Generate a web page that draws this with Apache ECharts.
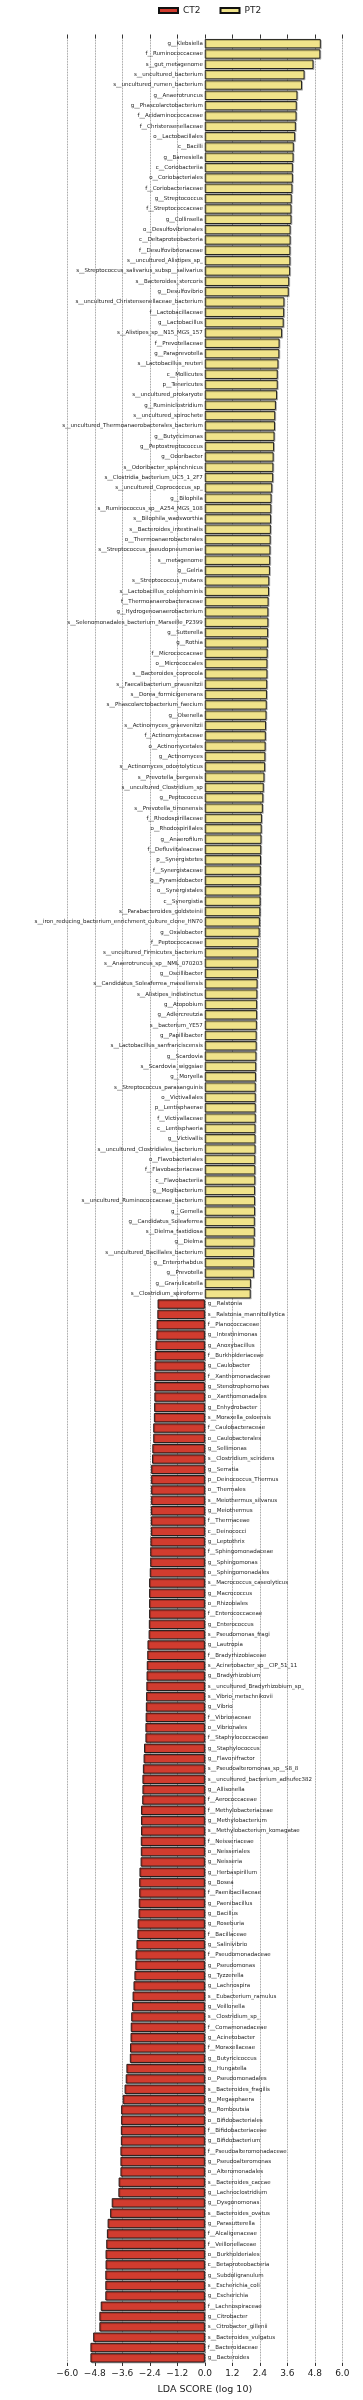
<!DOCTYPE html>
<html>
<head>
<meta charset="utf-8">
<script src="https://cdn.jsdelivr.net/npm/echarts@6/dist/echarts.min.js"></script>
<style>
  html, body { margin: 0; padding: 0; background: #fff; }
  #chart { width: 363px; height: 2400px; }
</style>
</head>
<body>
<div id="chart"></div>
<script>
// PT2 enriched (positive LDA)
const ptNames = [
  "g__Klebsiella", "f__Ruminococcaceae", "s__gut_metagenome", "s__uncultured_bacterium",
  "s__uncultured_rumen_bacterium", "g__Anaerotruncus", "g__Phascolarctobacterium",
  "f__Acidaminococcaceae", "f__Christensenellaceae", "o__Lactobacillales", "c__Bacilli",
  "g__Barnesiella", "c__Coriobacteriia", "o__Coriobacteriales", "f__Coriobacteriaceae",
  "g__Streptococcus", "f__Streptococcaceae", "g__Collinsella", "o__Desulfovibrionales",
  "c__Deltaproteobacteria", "f__Desulfovibrionaceae", "s__uncultured_Alistipes_sp_",
  "s__Streptococcus_salivarius_subsp__salivarius", "s__Bacteroides_stercoris", "g__Desulfovibrio",
  "s__uncultured_Christensenellaceae_bacterium", "f__Lactobacillaceae", "g__Lactobacillus",
  "s__Alistipes_sp__N15_MGS_157", "f__Prevotellaceae", "g__Paraprevotella",
  "s__Lactobacillus_reuteri", "c__Mollicutes", "p__Tenericutes", "s__uncultured_prokaryote",
  "g__Ruminiclostridium", "s__uncultured_spirochete", "s__uncultured_Thermoanaerobacterales_bacterium",
  "g__Butyricimonas", "g__Peptostreptococcus", "g__Odoribacter", "s__Odoribacter_splanchnicus",
  "s__Clostridia_bacterium_UC5_1_2F7", "s__uncultured_Coprococcus_sp_", "g__Bilophila",
  "s__Ruminococcus_sp__A254_MGS_108", "s__Bilophila_wadsworthia", "s__Bacteroides_intestinalis",
  "o__Thermoanaerobacterales", "s__Streptococcus_pseudopneumoniae", "s__metagenome", "g__Gelria",
  "s__Streptococcus_mutans", "s__Lactobacillus_coleohominis", "f__Thermoanaerobacteraceae",
  "g__Hydrogenoanaerobacterium", "s__Selenomonadales_bacterium_Marseille_P2399", "g__Sutterella",
  "g__Rothia", "f__Micrococcaceae", "o__Micrococcales", "s__Bacteroides_coprocola",
  "s__Faecalibacterium_prausnitzii", "s__Dorea_formicigenerans", "s__Phascolarctobacterium_faecium",
  "g__Olsenella", "s__Actinomyces_graevenitzii", "f__Actinomycetaceae", "o__Actinomycetales",
  "g__Actinomyces", "s__Actinomyces_odontolyticus", "s__Prevotella_bergensis",
  "s__uncultured_Clostridium_sp", "g__Peptococcus", "s__Prevotella_timonensis",
  "f__Rhodospirillaceae", "o__Rhodospirillales", "g__Anaerofilum", "f__Defluviitaleaceae",
  "p__Synergistetes", "f__Synergistaceae", "g__Pyramidobacter", "o__Synergistales",
  "c__Synergistia", "s__Parabacteroides_goldsteinii",
  "s__iron_reducing_bacterium_enrichment_culture_clone_HN70", "g__Oxalobacter",
  "f__Peptococcaceae", "s__uncultured_Firmicutes_bacterium", "s__Anaerotruncus_sp__NML_070203",
  "g__Oscillibacter", "s__Candidatus_Soleaferrea_massiliensis", "s__Alistipes_indistinctus",
  "g__Atopobium", "g__Adlercreutzia", "s__bacterium_YE57", "g__Papillibacter",
  "s__Lactobacillus_sanfranciscensis", "g__Scardovia", "s__Scardovia_wiggsiae", "g__Moryella",
  "s__Streptococcus_parasanguinis", "o__Victivallales", "p__Lentisphaerae", "f__Victivallaceae",
  "c__Lentisphaeria", "g__Victivallis", "s__uncultured_Clostridiales_bacterium",
  "o__Flavobacteriales", "f__Flavobacteriaceae", "c__Flavobacteriia", "g__Mogibacterium",
  "s__uncultured_Ruminococcaceae_bacterium", "g__Gemella", "g__Candidatus_Soleaferrea",
  "s__Dielma_fastidiosa", "g__Dielma", "s__uncultured_Bacillales_bacterium", "g__Enterorhabdus",
  "g__Prevotella", "g__Granulicatella", "s__Clostridium_spiroforme"
];
const ptValues = [
  5.06, 5.04, 4.74, 4.35, 4.24, 4.04, 4.01, 4.00, 3.97, 3.94, 3.88, 3.87, 3.84, 3.84, 3.82,
  3.79, 3.78, 3.78, 3.74, 3.74, 3.73, 3.73, 3.72, 3.68, 3.66, 3.47, 3.46, 3.44, 3.37, 3.26,
  3.25, 3.21, 3.18, 3.18, 3.15, 3.10, 3.07, 3.06, 3.04, 3.02, 3.00, 2.99, 2.98, 2.94, 2.91,
  2.90, 2.89, 2.88, 2.87, 2.86, 2.85, 2.84, 2.81, 2.80, 2.78, 2.77, 2.77, 2.76, 2.75, 2.74,
  2.73, 2.73, 2.72, 2.71, 2.70, 2.69, 2.67, 2.66, 2.65, 2.64, 2.63, 2.60, 2.57, 2.55, 2.53,
  2.49, 2.48, 2.47, 2.46, 2.45, 2.44, 2.44, 2.43, 2.43, 2.42, 2.40, 2.39, 2.34, 2.33, 2.33,
  2.32, 2.30, 2.29, 2.28, 2.28, 2.27, 2.26, 2.26, 2.25, 2.24, 2.23, 2.22, 2.22, 2.22, 2.22,
  2.21, 2.21, 2.21, 2.20, 2.20, 2.20, 2.19, 2.19, 2.19, 2.18, 2.18, 2.17, 2.15, 2.15, 2.14,
  2.01, 2.00
];

// CT2 enriched (negative LDA)
const ctNames = [
  "g__Ralstonia", "s__Ralstonia_mannitolilytica", "f__Planococcaceae", "g__Intestinimonas",
  "g__Anoxybacillus", "f__Burkholderiaceae", "g__Caulobacter", "f__Xanthomonadaceae",
  "g__Stenotrophomonas", "o__Xanthomonadales", "g__Enhydrobacter", "s__Moraxella_osloensis",
  "f__Caulobacteraceae", "o__Caulobacterales", "g__Sellimonas", "s__Clostridium_scindens",
  "g__Serratia", "p__Deinococcus_Thermus", "o__Thermales", "s__Meiothermus_silvanus",
  "g__Meiothermus", "f__Thermaceae", "c__Deinococci", "g__Leptothrix", "f__Sphingomonadaceae",
  "g__Sphingomonas", "o__Sphingomonadales", "s__Macrococcus_caseolyticus", "g__Macrococcus",
  "o__Rhizobiales", "f__Enterococcaceae", "g__Enterococcus", "s__Pseudomonas_fragi",
  "g__Lautropia", "f__Bradyrhizobiaceae", "s__Acinetobacter_sp__CIP_51_11", "g__Bradyrhizobium",
  "s__uncultured_Bradyrhizobium_sp_", "s__Vibrio_metschnikovii", "g__Vibrio", "f__Vibrionaceae",
  "o__Vibrionales", "f__Staphylococcaceae", "g__Staphylococcus", "g__Flavonifractor",
  "s__Pseudoalteromonas_sp__S8_8", "s__uncultured_bacterium_adhufec382", "g__Allisonella",
  "f__Aerococcaceae", "f__Methylobacteriaceae", "g__Methylobacterium",
  "s__Methylobacterium_komagatae", "f__Neisseriaceae", "o__Neisseriales", "g__Neisseria",
  "g__Herbaspirillum", "g__Bosea", "f__Paenibacillaceae", "g__Paenibacillus", "g__Bacillus",
  "g__Roseburia", "f__Bacillaceae", "g__Salinivibrio", "f__Pseudomonadaceae", "g__Pseudomonas",
  "g__Tyzzerella", "g__Lachnospira", "s__Eubacterium_ramulus", "g__Veillonella",
  "s__Clostridium_sp_", "f__Comamonadaceae", "g__Acinetobacter", "f__Moraxellaceae",
  "g__Butyricicoccus", "g__Hungatella", "o__Pseudomonadales", "s__Bacteroides_fragilis",
  "g__Megasphaera", "g__Romboutsia", "o__Bifidobacteriales", "f__Bifidobacteriaceae",
  "g__Bifidobacterium", "f__Pseudoalteromonadaceae", "g__Pseudoalteromonas", "o__Alteromonadales",
  "s__Bacteroides_caccae", "g__Lachnoclostridium", "g__Dysgonomonas", "s__Bacteroides_ovatus",
  "g__Parasutterella", "f__Alcaligenaceae", "f__Veillonellaceae", "o__Burkholderiales",
  "c__Betaproteobacteria", "g__Subdoligranulum", "s__Escherichia_coli", "g__Escherichia",
  "f__Lachnospiraceae", "g__Citrobacter", "s__Citrobacter_gillenii", "s__Bacteroides_vulgatus",
  "f__Bacteroidaceae", "g__Bacteroides"
];
const ctValues = [
  -2.06, -2.07, -2.10, -2.11, -2.15, -2.18, -2.19, -2.20, -2.20, -2.20, -2.21, -2.22, -2.25,
  -2.25, -2.29, -2.30, -2.34, -2.34, -2.34, -2.34, -2.35, -2.35, -2.35, -2.37, -2.38, -2.38,
  -2.40, -2.43, -2.43, -2.43, -2.43, -2.44, -2.45, -2.50, -2.51, -2.53, -2.54, -2.55, -2.56,
  -2.57, -2.58, -2.59, -2.59, -2.65, -2.67, -2.70, -2.72, -2.72, -2.73, -2.78, -2.78, -2.78,
  -2.79, -2.79, -2.80, -2.85, -2.86, -2.86, -2.88, -2.89, -2.93, -2.94, -2.98, -3.02, -3.03,
  -3.07, -3.11, -3.15, -3.17, -3.21, -3.23, -3.24, -3.26, -3.27, -3.42, -3.45, -3.50, -3.58,
  -3.65, -3.65, -3.66, -3.66, -3.68, -3.68, -3.68, -3.76, -3.77, -4.06, -4.13, -4.24, -4.27,
  -4.30, -4.33, -4.33, -4.34, -4.34, -4.34, -4.54, -4.60, -4.60, -4.87, -4.99, -4.99
];

const ticks = { min: -6, max: 6, step: 1.2 };

const categories = ptNames.concat(ctNames);
const ptData = ptValues.concat(ctNames.map(() => null));
const ctData = ptNames.map(() => null).concat(ctValues);

const chart = echarts.init(document.getElementById("chart"), null, { renderer: "canvas" });

const labelFont = { fontFamily: "DejaVu Sans", fontSize: 5.5, color: "#222" };

const option = {
  animation: false,
  legend: {
    top: 1,
    left: 153,
    itemWidth: 19,
    itemHeight: 5,
    itemGap: 19,
    icon: "rect",
    textStyle: { fontFamily: "DejaVu Sans", fontSize: 9, color: "#222" },
    data: ["CT2", "PT2"]
  },
  grid: {
    left: 67.3,
    right: 20.7,
    top: 38.5,
    bottom: 31.6,
    containLabel: false
  },
  xAxis: [
    {
      type: "value",
      min: ticks.min,
      max: ticks.max,
      interval: ticks.step,
      position: "bottom",
      name: "LDA SCORE (log 10)",
      nameLocation: "middle",
      nameGap: 22,
      nameTextStyle: { fontFamily: "DejaVu Sans", fontSize: 9.5, color: "#222" },
      axisLine: { show: false },
      axisTick: { show: true, length: 3, lineStyle: { color: "#333" } },
      axisLabel: {
        margin: 6,
        fontFamily: "DejaVu Sans",
        fontSize: 9,
        color: "#222",
        formatter: (v) => v.toFixed(1).replace("-", "\u2212")
      },
      splitLine: { show: true, lineStyle: { type: "dotted", color: "#777", width: 0.8 } }
    },
    {
      type: "value",
      min: ticks.min,
      max: ticks.max,
      interval: ticks.step,
      position: "top",
      axisLine: { show: false },
      axisTick: { show: true, length: 4, lineStyle: { color: "#333" } },
      axisLabel: { show: false },
      splitLine: { show: false }
    }
  ],
  yAxis: {
    type: "category",
    data: categories,
    inverse: true,
    axisLine: { show: false },
    axisTick: { show: false },
    axisLabel: { show: false }
  },
  series: [
    {
      name: "CT2",
      type: "bar",
      data: ctData,
      barCategoryGap: "10%",
      barGap: "-100%",
      itemStyle: {
        color: "#d13c2f",
        borderColor: "#111",
        borderWidth: 0.9,
        shadowColor: "rgba(0,0,0,0.25)",
        shadowOffsetX: 1,
        shadowOffsetY: 1
      },
      label: {
        show: true,
        position: "right",
        distance: 3,
        formatter: (p) => p.name,
        ...labelFont
      }
    },
    {
      name: "PT2",
      type: "bar",
      data: ptData,
      barCategoryGap: "10%",
      barGap: "-100%",
      itemStyle: {
        color: "#f0e38a",
        borderColor: "#111",
        borderWidth: 0.9,
        shadowColor: "rgba(0,0,0,0.25)",
        shadowOffsetX: 1,
        shadowOffsetY: 1
      },
      label: {
        show: true,
        position: "left",
        distance: 2,
        formatter: (p) => p.name,
        ...labelFont
      }
    }
  ]
};

chart.setOption(option);
</script>
</body>
</html>
